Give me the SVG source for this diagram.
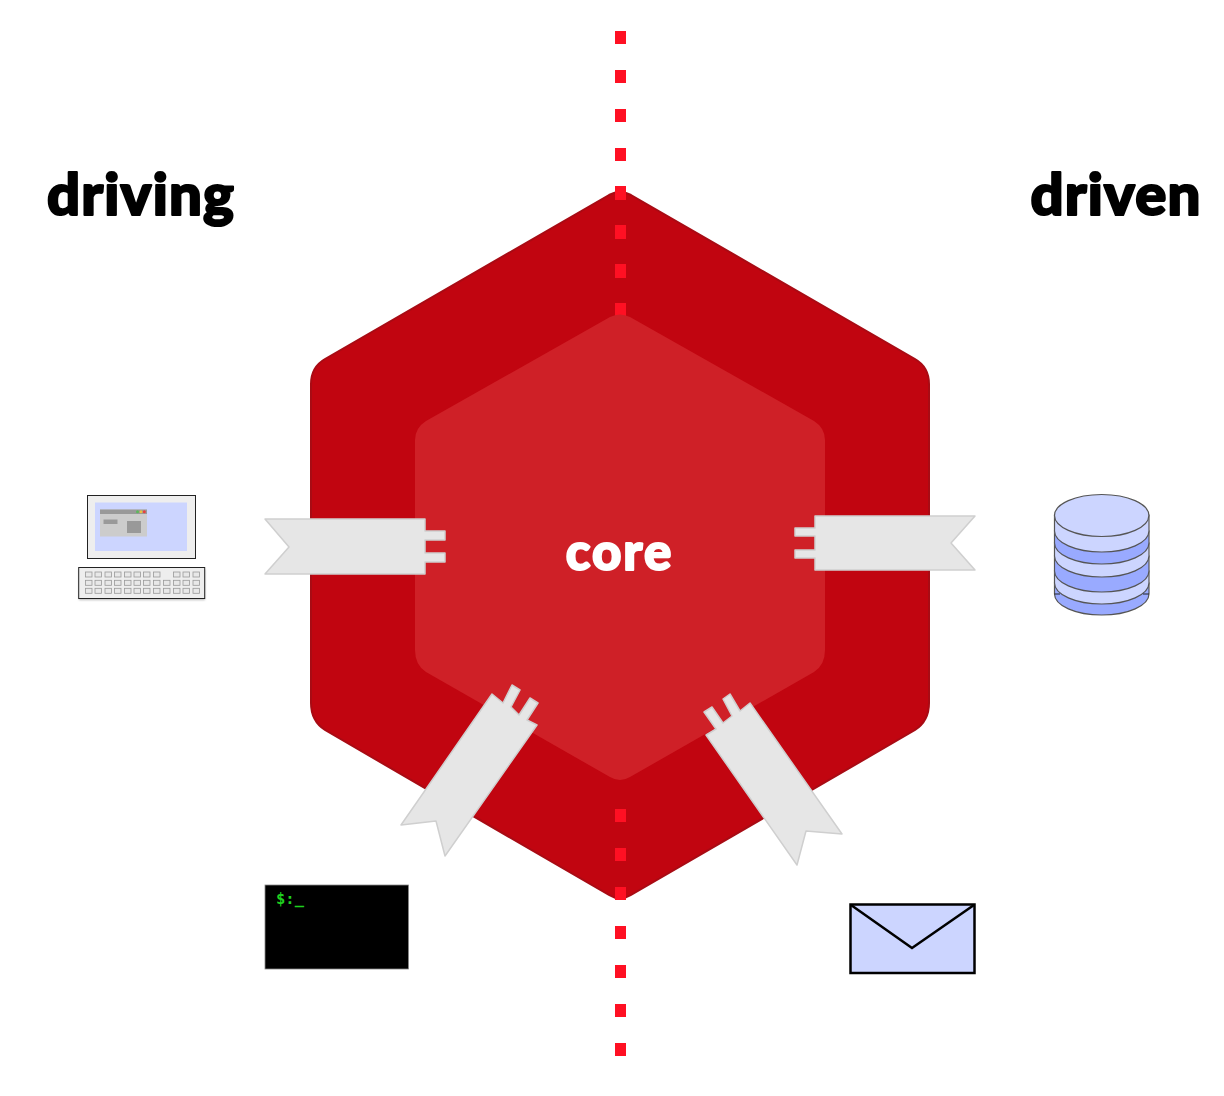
<svg xmlns="http://www.w3.org/2000/svg" width="1224" height="1096" viewBox="0 0 1224 1096">
<style>
.rib{fill:#e6e6e6;stroke:#cfcfcf;stroke-width:1.5;stroke-linejoin:round}
.title{font-family:Lato,"Liberation Sans",sans-serif;font-weight:900;font-size:58px;letter-spacing:1.2px;fill:#000;stroke:#000;stroke-width:2.2;stroke-linejoin:round}
.key{fill:#e8e8e8;stroke:#999;stroke-width:.8}
.db{stroke:#555;stroke-width:1.2}
.l{fill:#ccd5ff}.d{fill:#99aaff}
</style>
<defs>
<g id="keyrow">
<rect class="key" x="85.500" width="6.500" height="5"/><rect class="key" x="95" width="6.500" height="5"/><rect class="key" x="105" width="6.500" height="5"/><rect class="key" x="114.500" width="6.500" height="5"/><rect class="key" x="124.500" width="6.500" height="5"/><rect class="key" x="134" width="6.500" height="5"/><rect class="key" x="143.500" width="6.500" height="5"/><rect class="key" x="153.500" width="6.500" height="5"/><rect class="key" x="173.500" width="6.500" height="5"/><rect class="key" x="183" width="6.500" height="5"/><rect class="key" x="193" width="6.500" height="5"/>
</g>
<filter id="sh" x="-5%" y="-10%" width="110%" height="130%"><feGaussianBlur stdDeviation="1.200"/></filter>
</defs>
<g id="hexagon-outer"><path d="M609,195 Q620,189 631,195 L915,359 Q929,367 929,384 V703 Q929,721 915,730 L631,895 Q620,902 609,895 L325,730 Q311,721 311,703 V384 Q311,367 325,359 Z" fill="#c10510" stroke="#a80b14" stroke-width="2"/></g>
<g id="divider" fill="#ff1023">
<rect x="615" y="31" width="11" height="13"/><rect x="615" y="70" width="11" height="13"/><rect x="615" y="109" width="11" height="13"/><rect x="615" y="148" width="11" height="13"/><rect x="615" y="186" width="11" height="14"/><rect x="615" y="225" width="11" height="14"/><rect x="615" y="264" width="11" height="14"/><rect x="615" y="303" width="11" height="13"/>
<rect x="615" y="809" width="11" height="13"/><rect x="615" y="848" width="11" height="13"/><rect x="615" y="887" width="11" height="13"/><rect x="615" y="926" width="11" height="13"/><rect x="615" y="965" width="11" height="13"/><rect x="615" y="1004" width="11" height="13"/><rect x="615" y="1043" width="11" height="13"/>
</g>
<g id="hexagon-inner"><path d="M610,317 Q620,312 630,317 L814,421 Q825,428 825,440 V650 Q825,665 814,672 L630,777 Q620,783 610,777 L426,672 Q415,665 415,650 V440 Q415,428 426,421 Z" fill="#cf2027"/></g>
<g id="core"><text x="619.500" y="570" text-anchor="middle" font-family="Lato,'Liberation Sans',sans-serif" font-weight="900" font-size="51" letter-spacing="2" fill="#fff" stroke="#fff" stroke-width="2" stroke-linejoin="round">core</text></g>
<g id="label-driving"><text class="title" x="141" y="215" text-anchor="middle">driving</text></g>
<g id="label-driven"><text class="title" x="1116" y="215" text-anchor="middle">driven</text></g>
<g id="connectors">
<path class="rib" d="M265,519 H425 V531 H445 V540 H425 V553 H445 V562 H425 V574 H265 L289,547 Z"/>
<path class="rib" d="M975,516 H815 V528 H795 V536 H815 V550 H795 V558 H815 V570 H975 L951,543 Z"/>
<path class="rib" d="M492,694 L503,703 L512,685 L520,690 L511,707 L519,715 L530,698 L538,703 L527,720 L537,725 L445,856 L436,821 L401,825 Z"/>
<path class="rib" d="M706,735 L716,729 L704,712 L712,707 L723,723 L732,716 L723,699 L730,694 L740,711 L750,703 L842,834 L806,831 L797,865 Z"/>
</g>
<g id="computer">
<rect x="87.500" y="495.500" width="108" height="63" fill="#eee" stroke="#222" stroke-width="1"/>
<rect x="95" y="502.500" width="92" height="48.500" fill="#ccd5ff"/>
<rect x="100" y="509.500" width="47" height="27" fill="#ccc"/>
<rect x="100" y="509.500" width="47" height="4.500" fill="#999"/>
<circle cx="137.500" cy="511.700" r="1.500" fill="#5cb85c"/><circle cx="141" cy="511.700" r="1.500" fill="#e8c040"/><circle cx="144.300" cy="511.700" r="1.500" fill="#e84040"/>
<rect x="103.500" y="519.500" width="14" height="4.500" fill="#999"/>
<rect x="127" y="521" width="14" height="12" fill="#999"/>
<rect x="79" y="569" width="126" height="31" fill="#888" opacity=".6" filter="url(#sh)"/>
<rect x="78.700" y="567.500" width="126" height="31" fill="#eee" stroke="#222" stroke-width="1"/>
<use href="#keyrow" y="572"/><use href="#keyrow" y="580.300"/><use href="#keyrow" y="588.300"/>
<rect class="key" x="163.500" y="580.300" width="6.500" height="5"/><rect class="key" x="163.500" y="588.300" width="6.500" height="5"/>
</g>
<g id="database">
<path class="d db" d="M1054.500,583 V594 A47.200,21 0 0 0 1149,594 V583 Z"/>
<path class="l db" d="M1054.500,571 V583 A47.200,21 0 0 0 1149,583 V571 Z"/>
<path d="M1054.500,594 H1060 M1149,594 H1143" stroke="#222" stroke-width="1.200" fill="none"/>
<path class="d db" d="M1054.500,556 V571 A47.200,21 0 0 0 1149,571 V556 Z"/>
<path class="l db" d="M1054.500,543 V556 A47.200,21 0 0 0 1149,556 V543 Z"/>
<path class="d db" d="M1054.500,531 V543 A47.200,21 0 0 0 1149,543 V531 Z"/>
<path class="l db" d="M1054.500,515 V531 A47.200,21 0 0 0 1149,531 V515 Z"/>
<ellipse class="l db" cx="1101.700" cy="515.500" rx="47.200" ry="21"/>
</g>
<g id="terminal">
<rect x="265" y="885" width="143.500" height="84" fill="#000" stroke="#888" stroke-width=".8"/>
<text x="276" y="904" font-family="'DejaVu Sans Mono','Liberation Mono',monospace" font-size="15.500" font-weight="bold" fill="#1fd01f">$:_</text>
</g>
<g id="envelope">
<rect x="850.500" y="904.500" width="124" height="68.500" fill="#ccd5ff" stroke="#000" stroke-width="2.500"/>
<path d="M851,905 L912,948 L974,905" fill="none" stroke="#000" stroke-width="2.500"/>
</g>
</svg>
